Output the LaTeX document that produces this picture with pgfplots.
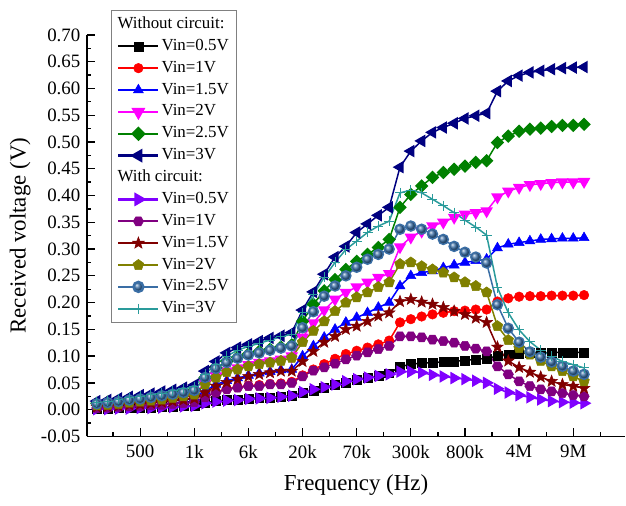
\documentclass[border=0pt]{standalone}
\usepackage{fontspec}
\setmainfont{Liberation Serif}
\usepackage{pgfplots}
\usepackage{pgfplotstable}
\pgfplotsset{compat=1.18}
\usetikzlibrary{plotmarks}

\definecolor{cMag}{RGB}{255,0,255}
\definecolor{cNavy}{RGB}{0,0,128}
\definecolor{cGreen}{RGB}{0,128,0}
\definecolor{cViolet}{RGB}{128,0,255}
\definecolor{cPurple}{RGB}{128,0,128}
\definecolor{cWine}{RGB}{128,0,0}
\definecolor{cOlive}{RGB}{128,128,0}
\definecolor{cSteel}{RGB}{58,110,165}
\definecolor{cTeal}{RGB}{42,155,155}

% hexagon and filled five-point star marks
\pgfdeclareplotmark{hexagon*}{%
  \pgfpathmoveto{\pgfpointpolar{0}{\pgfplotmarksize}}%
  \pgfpathlineto{\pgfpointpolar{60}{\pgfplotmarksize}}%
  \pgfpathlineto{\pgfpointpolar{120}{\pgfplotmarksize}}%
  \pgfpathlineto{\pgfpointpolar{180}{\pgfplotmarksize}}%
  \pgfpathlineto{\pgfpointpolar{240}{\pgfplotmarksize}}%
  \pgfpathlineto{\pgfpointpolar{300}{\pgfplotmarksize}}%
  \pgfpathclose\pgfusepathqfillstroke}
\pgfdeclareplotmark{fstar}{%
  \pgfpathmoveto{\pgfpointpolar{90}{\pgfplotmarksize}}%
  \pgfpathlineto{\pgfpointpolar{126}{0.42\pgfplotmarksize}}%
  \pgfpathlineto{\pgfpointpolar{162}{\pgfplotmarksize}}%
  \pgfpathlineto{\pgfpointpolar{198}{0.42\pgfplotmarksize}}%
  \pgfpathlineto{\pgfpointpolar{234}{\pgfplotmarksize}}%
  \pgfpathlineto{\pgfpointpolar{270}{0.42\pgfplotmarksize}}%
  \pgfpathlineto{\pgfpointpolar{306}{\pgfplotmarksize}}%
  \pgfpathlineto{\pgfpointpolar{342}{0.42\pgfplotmarksize}}%
  \pgfpathlineto{\pgfpointpolar{18}{\pgfplotmarksize}}%
  \pgfpathlineto{\pgfpointpolar{54}{0.42\pgfplotmarksize}}%
  \pgfpathclose\pgfusepathqfillstroke}

% i = point index on the axis, freq in Hz
\pgfplotstableread{
i freq n05 n1 n15 n2 n25 n3
0 100 0.002 0.004 0.006 0.009 0.012 0.016
1 200 0.002 0.005 0.007 0.010 0.014 0.018
2 300 0.003 0.006 0.008 0.012 0.016 0.021
3 400 0.003 0.007 0.010 0.014 0.019 0.024
4 500 0.004 0.008 0.011 0.016 0.021 0.027
5 600 0.004 0.009 0.013 0.018 0.024 0.030
6 700 0.005 0.010 0.015 0.021 0.027 0.034
7 800 0.006 0.012 0.017 0.023 0.030 0.037
8 900 0.007 0.013 0.019 0.026 0.033 0.041
9 1000 0.008 0.015 0.022 0.030 0.037 0.046
10 2000 0.013 0.024 0.035 0.049 0.060 0.072
11 3000 0.016 0.033 0.047 0.063 0.078 0.090
12 4000 0.018 0.039 0.054 0.072 0.090 0.106
13 5000 0.019 0.042 0.059 0.078 0.098 0.116
14 6000 0.021 0.045 0.064 0.084 0.104 0.122
15 7000 0.022 0.046 0.068 0.088 0.109 0.128
16 8000 0.023 0.048 0.071 0.091 0.113 0.134
17 9000 0.024 0.049 0.074 0.094 0.117 0.138
18 10000 0.026 0.052 0.075 0.100 0.121 0.144
19 20000 0.031 0.064 0.100 0.135 0.165 0.186
20 30000 0.036 0.075 0.119 0.162 0.197 0.220
21 40000 0.041 0.085 0.135 0.186 0.222 0.253
22 50000 0.046 0.095 0.150 0.206 0.243 0.285
23 60000 0.051 0.104 0.163 0.219 0.262 0.305
24 70000 0.055 0.110 0.172 0.229 0.277 0.331
25 80000 0.059 0.116 0.181 0.238 0.290 0.347
26 90000 0.063 0.122 0.191 0.247 0.303 0.363
27 100000 0.068 0.129 0.200 0.254 0.318 0.378
28 200000 0.080 0.163 0.231 0.304 0.378 0.453
29 300000 0.085 0.169 0.250 0.322 0.402 0.483
30 400000 0.087 0.174 0.256 0.333 0.418 0.502
31 500000 0.088 0.178 0.259 0.343 0.434 0.518
32 600000 0.089 0.181 0.265 0.350 0.443 0.527
33 700000 0.090 0.184 0.270 0.359 0.449 0.535
34 800000 0.092 0.185 0.275 0.365 0.455 0.544
35 900000 0.094 0.187 0.278 0.368 0.462 0.549
36 1000000 0.096 0.187 0.281 0.371 0.465 0.554
37 2000000 0.100 0.202 0.302 0.397 0.499 0.595
38 3000000 0.103 0.208 0.309 0.408 0.511 0.614
39 4000000 0.105 0.211 0.312 0.415 0.520 0.624
40 5000000 0.106 0.212 0.315 0.420 0.524 0.630
41 6000000 0.106 0.212 0.318 0.422 0.526 0.633
42 7000000 0.107 0.213 0.319 0.424 0.529 0.636
43 8000000 0.107 0.213 0.320 0.425 0.531 0.638
44 9000000 0.107 0.213 0.320 0.425 0.531 0.639
45 10000000 0.107 0.214 0.321 0.426 0.533 0.640
}\without

\pgfplotstableread{
i freq w05 w1 w15 w2 w25 w3
0 100 0.001 0.003 0.005 0.008 0.011 0.014
1 200 0.001 0.004 0.006 0.009 0.013 0.016
2 300 0.002 0.005 0.007 0.011 0.015 0.019
3 400 0.002 0.006 0.009 0.013 0.018 0.022
4 500 0.003 0.007 0.010 0.015 0.020 0.025
5 600 0.003 0.008 0.012 0.017 0.023 0.028
6 700 0.004 0.009 0.014 0.019 0.026 0.031
7 800 0.005 0.011 0.016 0.022 0.029 0.035
8 900 0.006 0.012 0.018 0.025 0.032 0.039
9 1000 0.007 0.014 0.021 0.028 0.036 0.043
10 2000 0.012 0.023 0.032 0.047 0.060 0.066
11 3000 0.015 0.032 0.044 0.060 0.077 0.085
12 4000 0.017 0.038 0.051 0.070 0.088 0.100
13 5000 0.018 0.041 0.057 0.075 0.096 0.111
14 6000 0.020 0.044 0.062 0.081 0.102 0.118
15 7000 0.021 0.044 0.066 0.085 0.106 0.124
16 8000 0.022 0.047 0.069 0.088 0.111 0.130
17 9000 0.024 0.047 0.072 0.091 0.115 0.136
18 10000 0.026 0.050 0.072 0.097 0.119 0.141
19 20000 0.033 0.062 0.090 0.126 0.153 0.181
20 30000 0.038 0.073 0.109 0.147 0.183 0.215
21 40000 0.042 0.079 0.126 0.165 0.212 0.247
22 50000 0.047 0.086 0.137 0.184 0.231 0.275
23 60000 0.053 0.094 0.150 0.200 0.250 0.299
24 70000 0.057 0.101 0.156 0.210 0.266 0.315
25 80000 0.060 0.107 0.165 0.219 0.281 0.331
26 90000 0.063 0.113 0.175 0.229 0.290 0.343
27 100000 0.066 0.119 0.181 0.238 0.300 0.352
28 200000 0.071 0.137 0.202 0.272 0.337 0.405
29 300000 0.071 0.137 0.206 0.275 0.343 0.410
30 400000 0.069 0.135 0.201 0.268 0.337 0.405
31 500000 0.065 0.131 0.197 0.262 0.328 0.393
32 600000 0.062 0.128 0.191 0.256 0.318 0.381
33 700000 0.059 0.125 0.184 0.247 0.305 0.368
34 800000 0.057 0.119 0.178 0.238 0.294 0.354
35 900000 0.054 0.114 0.171 0.231 0.285 0.341
36 1000000 0.050 0.109 0.163 0.219 0.274 0.326
37 2000000 0.039 0.081 0.117 0.156 0.196 0.228
38 3000000 0.032 0.066 0.091 0.130 0.152 0.181
39 4000000 0.027 0.053 0.079 0.115 0.126 0.149
40 5000000 0.023 0.044 0.070 0.103 0.108 0.127
41 6000000 0.019 0.038 0.061 0.091 0.098 0.111
42 7000000 0.016 0.034 0.053 0.081 0.089 0.100
43 8000000 0.014 0.031 0.047 0.072 0.081 0.090
44 9000000 0.013 0.027 0.044 0.062 0.072 0.084
45 10000000 0.012 0.025 0.040 0.053 0.066 0.078
}\withc

\pgfplotsset{
  ser/.style n args={3}{color=#1, line width=1.5bp,
    mark=#2, mark size=#3,
    mark options={solid, fill=#1, draw=#1, line width=0.5bp}},
}

\begin{document}
\begin{tikzpicture}
\begin{axis}[
  scale only axis, width=539bp, height=402bp,
  xmin=-0.92, xmax=48.8, ymin=-0.05, ymax=0.70,
  axis lines=left,
  axis line style={-, line width=1.6bp},
  tick align=inside,
  xtick={4,9,14,19,24,29,34,39,44},
  xticklabels={500,1k,6k,20k,70k,300k,800k,4M,9M},
  minor xtick={1.5,6.5,11.5,16.5,21.5,26.5,31.5,36.5,41.5,46.5},
  ytick={-0.05,0,0.05,0.1,0.15,0.2,0.25,0.3,0.35,0.4,0.45,0.5,0.55,0.6,0.65,0.7},
  minor ytick={-0.025,0.025,0.075,0.125,0.175,0.225,0.275,0.325,0.375,0.425,0.475,0.525,0.575,0.625,0.675},
  major tick length=8bp, minor tick length=4.5bp,
  every tick/.append style={black, line width=1.3bp},
  tick label style={font=\fontsize{19}{22}\selectfont},
  /pgf/number format/assume math mode=true,
  yticklabel style={xshift=-3bp, /pgf/number format/fixed,
    /pgf/number format/fixed zerofill, /pgf/number format/precision=2},
  xticklabel style={yshift=-5bp},
  xlabel={Frequency (Hz)},
  ylabel={Received voltage (V)},
  every axis x label/.style={at={(axis description cs:0.5,-0.12)}, anchor=center,
    font=\fontsize{23}{27}\selectfont},
  every axis y label/.style={at={(axis description cs:-0.124,0.5)}, anchor=center,
    rotate=90, font=\fontsize{23}{27}\selectfont},
  legend cell align=left,
  legend style={at={(0.0445,1.062)}, anchor=north west,
    draw=gray, line width=0.8bp, fill=white,
    font=\fontsize{17}{20}\selectfont,
    inner xsep=6bp, inner ysep=4bp, row sep=1.9bp,
    nodes={inner sep=2bp, text height=12bp, text depth=4bp}},
  legend image code/.code={%
    \draw[mark repeat=2, mark phase=2, line width=2.4bp]
      plot coordinates {(0bp,0bp) (20bp,0bp) (40bp,0bp)};},
  clip=false,
]
\addlegendimage{empty legend}
\addlegendentry{\hspace{-44bp}Without circuit:}
\addplot[ser={black}{square*}{4.5bp}] table[x=i, y=n05] {\without};
\addlegendentry{Vin=0.5V}
\addplot[ser={red}{*}{4.8bp}] table[x=i, y=n1] {\without};
\addlegendentry{Vin=1V}
\addplot[ser={blue}{triangle*}{5.8bp}] table[x=i, y=n15] {\without};
\addlegendentry{Vin=1.5V}
\addplot[ser={cMag}{triangle*}{5.8bp}, mark options={rotate=180}] table[x=i, y=n2] {\without};
\addlegendentry{Vin=2V}
\addplot[ser={cGreen}{square*}{4bp}, mark options={rotate=45}] table[x=i, y=n25] {\without};
\addlegendentry{Vin=2.5V}
\addplot[ser={cNavy}{triangle*}{5.8bp}, mark options={rotate=90}] table[x=i, y=n3] {\without};
\addlegendentry{Vin=3V}
\addlegendimage{empty legend}
\addlegendentry{\hspace{-44bp}With circuit:}
\addplot[ser={cViolet}{triangle*}{5.8bp}, mark options={rotate=-90}] table[x=i, y=w05] {\withc};
\addlegendentry{Vin=0.5V}
\addplot[ser={cPurple}{hexagon*}{5.2bp}] table[x=i, y=w1] {\withc};
\addlegendentry{Vin=1V}
\addplot[ser={cWine}{fstar}{6.2bp}] table[x=i, y=w15] {\withc};
\addlegendentry{Vin=1.5V}
\addplot[ser={cOlive}{pentagon*}{5.6bp}] table[x=i, y=w2] {\withc};
\addlegendentry{Vin=2V}
\addplot[color=cSteel, line width=1.5bp, mark=ball, mark size=5bp,
  mark options={ball color=cSteel}] table[x=i, y=w25] {\withc};
\addlegendentry{Vin=2.5V}
\addplot[ser={cTeal}{+}{5bp}, mark options={line width=1bp}] table[x=i, y=w3] {\withc};
\addlegendentry{Vin=3V}
\path (rel axis cs:-0.1614,-0.1716) rectangle (rel axis cs:1,1.087);
\end{axis}
\end{tikzpicture}
\end{document}
